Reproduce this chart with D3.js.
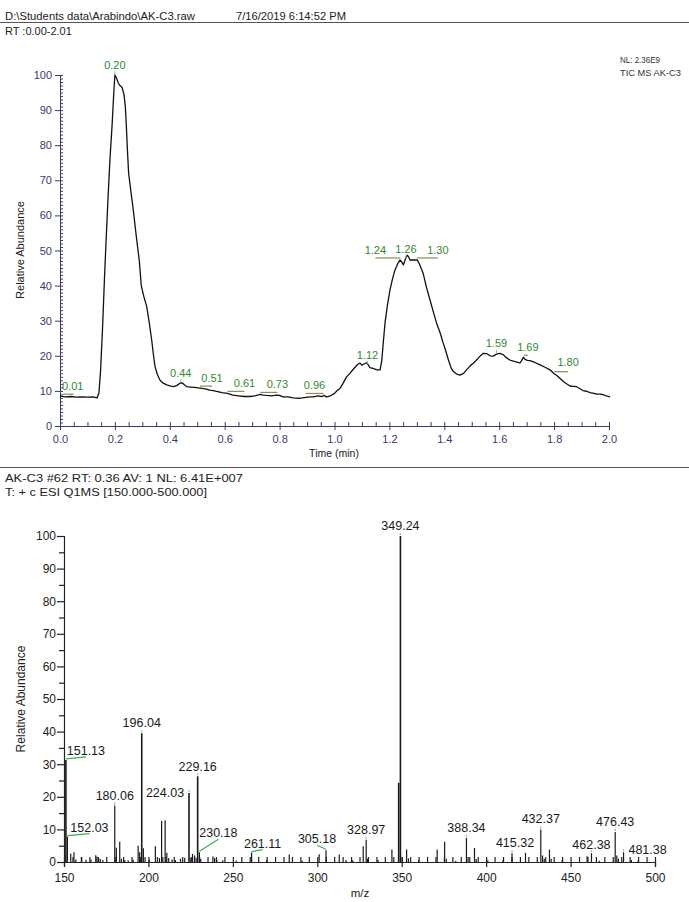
<!DOCTYPE html>
<html>
<head>
<meta charset="utf-8">
<script src="https://cdn.jsdelivr.net/npm/d3@7/dist/d3.min.js"></script>
<style>
body { margin: 0; background: #fff; }
svg { display: block; font-family: "Liberation Sans", Arial, sans-serif; }
.top-axis path, .top-axis line { stroke: #3a3a6e; }
.top-axis text { fill: #3a3a6e; font-size: 11px; }
.bot-axis path, .bot-axis line { stroke: #222; }
.bot-axis text { fill: #222; font-size: 12px; }
</style>
</head>
<body>
<svg width="689" height="902"></svg>
<script>
// chromatogram (TIC), relative abundance vs retention time
const rt = [0.00, 0.02, 0.04, 0.06, 0.08, 0.10, 0.12, 0.135, 0.142, 0.148, 0.155, 0.162, 0.168, 0.175, 0.182, 0.19, 0.196, 0.200,
    0.205, 0.212, 0.218, 0.226, 0.233, 0.238, 0.242, 0.246, 0.250, 0.258, 0.267, 0.278, 0.289, 0.296, 0.305, 0.316, 0.325, 0.334,
    0.340, 0.346, 0.354, 0.364, 0.376, 0.389, 0.400, 0.413, 0.425, 0.437, 0.445, 0.452, 0.462, 0.475, 0.49, 0.51, 0.53, 0.545,
    0.558, 0.575, 0.59, 0.61, 0.63, 0.65, 0.67, 0.692, 0.71, 0.73, 0.74, 0.753, 0.77, 0.79, 0.80, 0.812, 0.83, 0.85, 0.87, 0.89,
    0.91, 0.923, 0.94, 0.955, 0.96, 0.971, 0.985, 1.00, 1.01, 1.02, 1.03, 1.044, 1.056, 1.07, 1.085, 1.093, 1.10, 1.105, 1.117,
    1.123, 1.129, 1.14, 1.155, 1.166, 1.172, 1.178, 1.184, 1.192, 1.202, 1.21, 1.22, 1.232, 1.239, 1.246, 1.251, 1.258, 1.265,
    1.27, 1.275, 1.29, 1.302, 1.31, 1.323, 1.335, 1.348, 1.36, 1.372, 1.385, 1.396, 1.405, 1.415, 1.425, 1.433, 1.445, 1.457,
    1.47, 1.481, 1.495, 1.506, 1.52, 1.53, 1.542, 1.555, 1.567, 1.579, 1.59, 1.603, 1.615, 1.627, 1.639, 1.655, 1.668, 1.676,
    1.682, 1.688, 1.694, 1.703, 1.712, 1.73, 1.749, 1.765, 1.785, 1.80, 1.81, 1.821, 1.835, 1.848, 1.858, 1.87, 1.882, 1.895,
    1.905, 1.918, 1.931, 1.945, 1.956, 1.967, 1.98, 1.99, 2.004];
const tic = [8.5, 8.3, 8.4, 8.2, 8.3, 8.2, 8.3, 8.0, 9.5, 16, 28, 42, 53, 65, 76, 86, 95, 100,
    99.3, 97.8, 97.0, 96.5, 94.5, 91, 85, 78, 72, 67, 61.5, 54, 47, 40, 37, 34, 29.5, 24.5,
    20.5, 17, 14.8, 13.1, 12.2, 11.7, 11.4, 11.2, 11.5, 12.2, 12.3, 11.8, 11.2, 11.1, 11.0, 10.8, 10.6, 10.2,
    10.1, 9.8, 9.5, 9.3, 8.8, 8.6, 8.4, 8.4, 8.6, 9.0, 8.8, 8.7, 8.6, 8.8, 8.7, 8.3, 8.3, 8.0, 7.9, 8.1,
    8.3, 8.3, 8.6, 8.4, 8.7, 8.3, 8.6, 9.3, 10.1, 10.7, 12.0, 14.0, 15.0, 16.3, 17.6, 17.9, 17.3, 17.6, 18.0,
    17.4, 16.6, 16.4, 16.0, 16.0, 18.5, 24, 29.3, 34, 38.7, 41.5, 44.4, 46.5, 47.3, 46.6, 45.9, 47.5, 48.7,
    48.2, 47.3, 47.3, 47.3, 46.0, 43.5, 39.5, 35.9, 32.5, 29.3, 26.5, 23.6, 21.5, 18.8, 16.5, 15.5, 14.8, 14.5,
    15.0, 16.0, 17.2, 17.9, 19.0, 19.9, 20.7, 20.6, 20.0, 19.9, 20.5, 20.7, 20.3, 19.4, 18.8, 18.4, 18.1, 18.0,
    18.7, 19.6, 19.0, 18.7, 18.6, 18.1, 17.4, 16.8, 16.0, 14.9, 14.4, 13.6, 12.6, 11.9, 11.4, 11.3, 11.2, 10.6,
    10.1, 9.9, 9.5, 9.3, 9.1, 9.1, 8.9, 8.6, 8.3];
const ticPeaks = ["0.01", "0.20", "0.44", "0.51", "0.61", "0.73", "0.96", "1.12", "1.24", "1.26", "1.30", "1.59", "1.69", "1.80"];
const rtTicks = [0, 0.2, 0.4, 0.6, 0.8, 1.0, 1.2, 1.4, 1.6, 1.8, 2.0];

// mass spectrum, scan #62
const mz = [151.13, 152.03, 154.0, 155.9, 157.0, 160.5, 163.0, 166.0, 168.8, 169.5, 170.5, 171.5, 173.0,
    180.06, 181.0, 183.0, 184.0, 186.0, 188.0, 191.0, 193.9, 194.8, 196.04, 197.0, 198.0, 200.5,
    204.1, 206.5, 207.8, 208.5, 209.9, 210.9, 212.0, 214.0, 216.0, 219.0, 221.5, 224.03, 225.2, 226.1,
    227.3, 228.2, 229.16, 230.18, 231.0, 238.2, 239.2, 240.5, 244.0, 252.0, 261.11, 270.0, 283.4, 291.0,
    301.1, 305.18, 313.0, 317.0, 321.0, 327.2, 328.97, 329.8, 336.0, 344.2, 348.2, 349.24, 350.3,
    352.9, 354.0, 360.0, 371.0, 375.4, 376.4, 382.0, 388.34, 389.3, 393.1, 394.1, 401.0, 410.0,
    415.32, 423.3, 432.37, 433.4, 434.4, 437.5, 438.5, 445.0, 459.8, 462.38, 467.0, 476.43, 477.4,
    478.3, 481.38, 486.0, 490.0];
const abund = [31.3, 7.8, 2.5, 3.0, 0.8, 1.5, 0.7, 0.8, 2.1, 1.6, 1.2, 0.9, 0.6,
    17.3, 4.4, 6.2, 1.0, 0.6, 0.5, 0.7, 5.0, 3.0, 39.5, 4.2, 1.5, 0.7,
    4.8, 1.2, 12.6, 1.5, 12.8, 2.8, 1.2, 0.8, 0.6, 1.0, 1.3, 21.2, 1.2, 2.5,
    2.0, 1.3, 26.3, 3.0, 1.0, 1.7, 1.2, 0.6, 0.5, 0.4, 2.9, 0.5, 2.3, 0.4,
    2.4, 3.6, 2.3, 0.6, 0.5, 4.8, 6.8, 1.0, 0.6, 3.8, 24.3, 100, 1.5,
    3.8, 1.1, 0.5, 3.8, 6.2, 1.0, 0.4, 7.4, 1.5, 4.3, 0.9, 0.5, 0.5,
    2.7, 2.8, 10.0, 2.0, 1.0, 3.8, 1.0, 0.5, 1.8, 2.7, 0.4, 9.2, 2.0,
    1.0, 3.0, 0.6, 0.4];
const msPeaks = ["151.13", "152.03", "180.06", "196.04", "224.03", "229.16", "230.18", "261.11", "305.18",
    "328.97", "349.24", "388.34", "415.32", "432.37", "462.38", "476.43", "481.38"];
const mzTicks = [150, 200, 250, 300, 350, 400, 450, 500];

// label placement: [dx, dy of baseline, leader end dx or null]
const ticLabelPos = {
    "0.01": [10, -6, 11], "0.20": [0, -6, null], "0.44": [0, -6, null], "0.51": [12, -6, 12],
    "0.61": [17, -6, 17], "0.73": [17, -6, 17], "0.96": [-9, -6, -18], "1.12": [0, -6, null],
    "1.24": [-25, -6, -25], "1.26": [0, -6, null], "1.30": [21, -6, 21], "1.59": [0, -7, null],
    "1.69": [4, -6, 4], "1.80": [14, -8, 14]
};
const msLabelPos = {
    "151.13": [20, -5, true], "152.03": [22, -5, true], "180.06": [0, -6, false], "196.04": [0, -6, false],
    "224.03": [-24, 4, false], "229.16": [0, -5, false], "230.18": [19, -15, true], "261.11": [11, -5, true],
    "305.18": [-9, -7, true], "328.97": [0, -6, false], "349.24": [0, -6, false], "388.34": [0, -6, false],
    "415.32": [3, -6, false], "432.37": [0, -6, false], "462.38": [0, -4, false], "476.43": [0, -6, false],
    "481.38": [24, 2, false]
};

const svg = d3.select("svg");

// ---- page header text ----
svg.append("text").attr("x", 5).attr("y", 20).attr("font-size", 11).attr("fill", "#222")
    .attr("textLength", 190).attr("lengthAdjust", "spacingAndGlyphs")
    .text("D:\\Students data\\Arabindo\\AK-C3.raw");
svg.append("text").attr("x", 236).attr("y", 20).attr("font-size", 11).attr("fill", "#222")
    .attr("textLength", 110).attr("lengthAdjust", "spacingAndGlyphs")
    .text("7/16/2019 6:14:52 PM");
svg.append("line").attr("x1", 0).attr("x2", 689).attr("y1", 22.5).attr("y2", 22.5)
    .attr("stroke", "#555").attr("stroke-width", 1);
svg.append("text").attr("x", 5).attr("y", 35).attr("font-size", 11).attr("fill", "#222")
    .text("RT :0.00-2.01");
svg.append("text").attr("x", 620).attr("y", 63).attr("font-size", 9).attr("fill", "#333")
    .attr("textLength", 40).attr("lengthAdjust", "spacingAndGlyphs")
    .text("NL: 2.36E9");
svg.append("text").attr("x", 620).attr("y", 76).attr("font-size", 9).attr("fill", "#333")
    .attr("textLength", 61).attr("lengthAdjust", "spacingAndGlyphs")
    .text("TIC  MS  AK-C3");

// ---- chromatogram ----
const xTop = d3.scaleLinear().domain([0, 2]).range([60, 609]);
const yTop = d3.scaleLinear().domain([0, 100]).range([426, 75]);

const topAx = svg.append("g").attr("class", "top-axis");
topAx.append("g").attr("transform", "translate(60,0)")
    .call(d3.axisRight(yTop).tickValues(d3.range(0, 101, 1)).tickSize(3).tickFormat(""))
    .call(g => g.select(".domain").remove());
topAx.append("g").attr("transform", "translate(60,0)")
    .call(d3.axisLeft(yTop).tickValues(d3.range(0, 101, 10)).tickSize(5).tickPadding(3));
topAx.append("g").attr("transform", "translate(0,426)")
    .call(d3.axisBottom(xTop).tickValues(d3.range(0, 2.001, 0.05)).tickSize(-4).tickFormat(""))
    .call(g => g.select(".domain").remove());
topAx.append("g").attr("transform", "translate(0,426)")
    .call(d3.axisBottom(xTop).tickValues(rtTicks).tickSize(4).tickPadding(5).tickFormat(d3.format(".1f")));

svg.append("text").attr("x", 334).attr("y", 457).attr("text-anchor", "middle")
    .attr("font-size", 10.5).attr("fill", "#222").text("Time (min)");
svg.append("text").attr("transform", "translate(24,250) rotate(-90)").attr("text-anchor", "middle")
    .attr("font-size", 11).attr("fill", "#222").text("Relative Abundance");

const ticData = rt.map((t, i) => [t, tic[i]]);
svg.append("path").datum(ticData)
    .attr("fill", "none").attr("stroke", "#111").attr("stroke-width", 1.3).attr("stroke-linejoin", "round")
    .attr("d", d3.line().x(d => xTop(d[0])).y(d => yTop(d[1])));

const nearestTic = t => {
    let best = 0;
    rt.forEach((r, i) => { if (Math.abs(r - t) < Math.abs(rt[best] - t)) best = i; });
    return tic[best];
};

ticPeaks.forEach(lbl => {
    const t = +lbl;
    const px = xTop(t), py = yTop(nearestTic(t));
    const [dx, dy, lx] = ticLabelPos[lbl];
    if (lx !== null) {
        svg.append("line").attr("x1", px).attr("x2", px + lx).attr("y1", py - 2).attr("y2", py - 2)
            .attr("stroke", "#8a8a55").attr("stroke-width", 1.2);
    } else {
        svg.append("line").attr("x1", px).attr("x2", px).attr("y1", py - 1).attr("y2", py - 4)
            .attr("stroke", "#9ab59a").attr("stroke-width", 1);
    }
    svg.append("text").attr("x", px + dx).attr("y", py + dy).attr("text-anchor", "middle")
        .attr("font-size", 11).attr("fill", "#2f8a2f").text(lbl);
});

// ---- separator + spectrum header ----
svg.append("line").attr("x1", 0).attr("x2", 689).attr("y1", 467.5).attr("y2", 467.5)
    .attr("stroke", "#555").attr("stroke-width", 1);
svg.append("text").attr("x", 5).attr("y", 482).attr("font-size", 11).attr("fill", "#222")
    .attr("textLength", 238).attr("lengthAdjust", "spacingAndGlyphs")
    .text("AK-C3 #62 RT: 0.36 AV: 1 NL: 6.41E+007");
svg.append("text").attr("x", 5).attr("y", 496).attr("font-size", 11).attr("fill", "#222")
    .attr("textLength", 202).attr("lengthAdjust", "spacingAndGlyphs")
    .text("T: + c ESI Q1MS [150.000-500.000]");

// ---- mass spectrum ----
const xBot = d3.scaleLinear().domain([150, 500]).range([64, 655]);
const yBot = d3.scaleLinear().domain([0, 100]).range([862, 536]);

const botAx = svg.append("g").attr("class", "bot-axis");
botAx.append("g").attr("transform", "translate(64,0)")
    .call(d3.axisLeft(yBot).tickValues(d3.range(5, 100, 10)).tickSize(5).tickFormat(""))
    .call(g => g.select(".domain").remove());
botAx.append("g").attr("transform", "translate(64,0)")
    .call(d3.axisLeft(yBot).tickValues(d3.range(0, 101, 10)).tickSize(7).tickPadding(1))
    .call(g => g.selectAll("text").attr("font-size", 13));
botAx.append("g").attr("transform", "translate(0,862)")
    .call(d3.axisBottom(xBot).tickValues(d3.range(150, 501, 5)).tickSize(-5).tickFormat(""))
    .call(g => g.select(".domain").remove());
botAx.append("g").attr("transform", "translate(0,862)")
    .call(d3.axisBottom(xBot).tickValues(mzTicks).tickSize(5).tickPadding(6));
botAx.selectAll("line, path").attr("stroke-width", 1.2);

svg.append("text").attr("x", 360).attr("y", 897).attr("text-anchor", "middle")
    .attr("font-size", 11.5).attr("fill", "#222").text("m/z");
svg.append("text").attr("transform", "translate(25,699) rotate(-90)").attr("text-anchor", "middle")
    .attr("font-size", 12).attr("fill", "#222").text("Relative Abundance");

svg.append("g").selectAll("line").data(mz).join("line")
    .attr("x1", d => xBot(d)).attr("x2", d => xBot(d))
    .attr("y1", yBot(0)).attr("y2", (d, i) => yBot(abund[i]))
    .attr("stroke", "#1a1a1a").attr("stroke-width", (d, i) => abund[i] > 20 ? 1.6 : 1.2);

msPeaks.forEach(lbl => {
    const i = mz.indexOf(+lbl);
    const px = xBot(mz[i]), py = yBot(abund[i]);
    const [dx, dy, lead] = msLabelPos[lbl];
    if (lead) {
        svg.append("line").attr("x1", px).attr("y1", py - 1).attr("x2", px + dx).attr("y2", py + dy + 2)
            .attr("stroke", "#3cb043").attr("stroke-width", 1.2);
    } else {
        svg.append("line").attr("x1", px).attr("x2", px).attr("y1", py - 1).attr("y2", py - 3)
            .attr("stroke", "#7fcf7f").attr("stroke-width", 1.2);
    }
    svg.append("text").attr("x", px + dx).attr("y", py + dy).attr("text-anchor", "middle")
        .attr("font-size", 12.5).attr("fill", "#1a1a1a").text(lbl);
});
</script>
</body>
</html>
